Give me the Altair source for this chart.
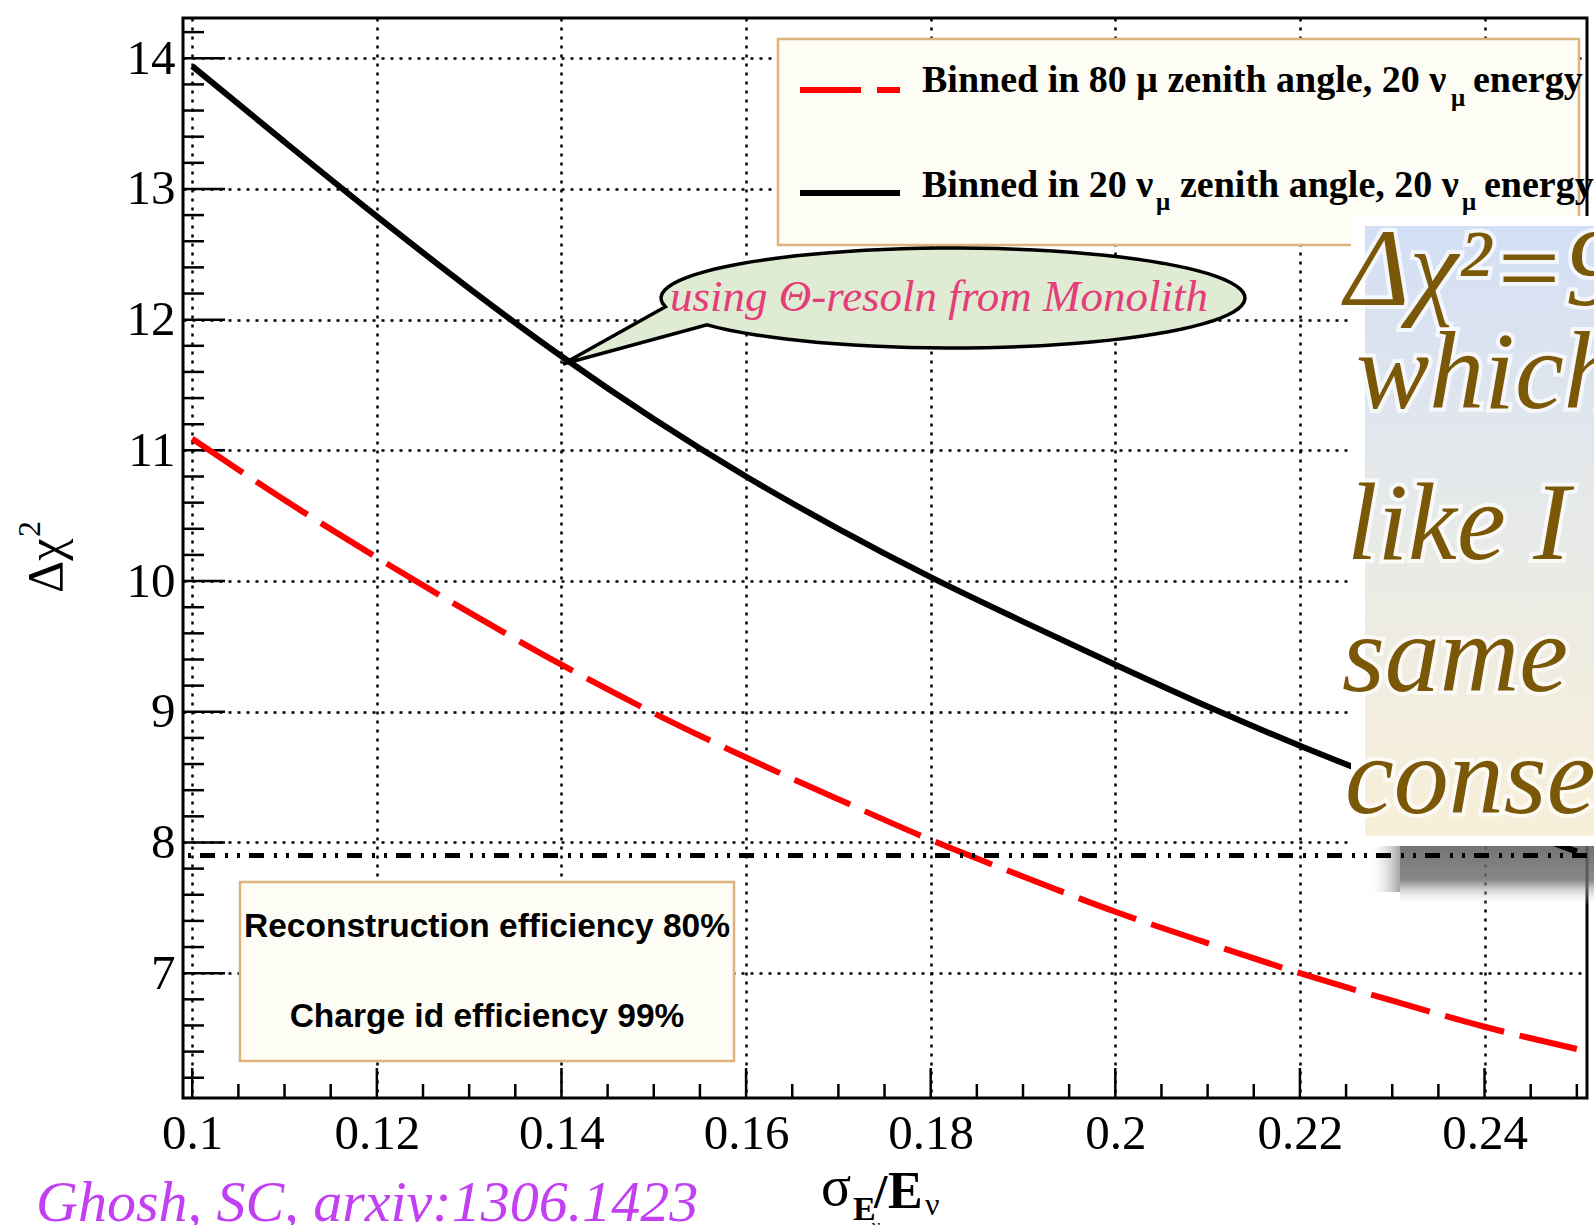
import altair as alt
import pandas as pd
import math

# sigma_E / E_nu and the Delta chi^2 reach of the two binning schemes
sigma_ratio = [0.10, 0.11, 0.12, 0.13, 0.14, 0.15, 0.16, 0.17,
               0.18, 0.19, 0.20, 0.21, 0.22, 0.23, 0.24, 0.25]
chi2_mu80 = [11.09, 10.62, 10.18, 9.76, 9.36, 8.99, 8.65, 8.33,
             8.02, 7.74, 7.47, 7.23, 7.00, 6.79, 6.59, 6.42]
chi2_nu20 = [13.94, 13.36, 12.79, 12.24, 11.72, 11.24, 10.80, 10.40,
             10.03, 9.69, 9.36, 9.04, 8.74, 8.46, 8.19, 7.93]
chi2_level = 7.9

x_major = [0.10, 0.12, 0.14, 0.16, 0.18, 0.20, 0.22, 0.24]
y_major = [7, 8, 9, 10, 11, 12, 13, 14]
x_minor = [round(0.100 + 0.005 * i, 3) for i in range(31)]
y_minor = [round(6.2 + 0.2 * i, 1) for i in range(41)]

# frame geometry (pixels)
LEFT, TOP, W, H = 183, 18, 1404, 1080
X_DOM = [0.099, 0.2511]
Y_DOM = [6.045, 14.308]

xs = alt.Scale(domain=X_DOM, nice=False, zero=False)
ys = alt.Scale(domain=Y_DOM, nice=False, zero=False)

axis_style = dict(grid=True, gridColor="black", gridDash=[3, 6], gridWidth=2.5,
                  gridOpacity=1, ticks=False, tickSize=0, domain=False,
                  labelFont="Liberation Serif", labelFontSize=49, labelColor="black",
                  labelOverlap=False, labelFlush=False)
x_enc = alt.X("x:Q", scale=xs, title=None,
              axis=alt.Axis(values=x_major, format=".2~f", labelPadding=11, **axis_style))
y_enc = alt.Y("y:Q", scale=ys, title=None,
              axis=alt.Axis(values=y_major, format="d", labelPadding=8, **axis_style))

one = pd.DataFrame({"k": [0]})


def label(text, px, py, **style):
    return alt.Chart(pd.DataFrame({"t": [text]})).mark_text(**style).encode(
        x=alt.value(px - LEFT), y=alt.value(py - TOP), text="t:N")


def box(x0, y0, x1, y1, **style):
    return alt.Chart(one).mark_rect(**style).encode(
        x=alt.value(x0 - LEFT), x2=alt.value(x1 - LEFT),
        y=alt.value(y0 - TOP), y2=alt.value(y1 - TOP))


# inward ticks
x_minor_only = [v for v in x_minor if all(abs(v - m) > 1e-6 for m in x_major)]
y_minor_only = [v for v in y_minor if abs(v - round(v)) > 0.01]
tick_x_major = alt.Chart(pd.DataFrame({"x": x_major})).mark_rule(
    color="black", strokeWidth=2.5).encode(x=x_enc, y=alt.value(H), y2=alt.value(H - 30))
tick_x_minor = alt.Chart(pd.DataFrame({"x": x_minor_only})).mark_rule(
    color="black", strokeWidth=2.5).encode(x=x_enc, y=alt.value(H), y2=alt.value(H - 14))
tick_y_major = alt.Chart(pd.DataFrame({"y": y_major})).mark_rule(
    color="black", strokeWidth=2.5).encode(y=y_enc, x=alt.value(0), x2=alt.value(42))
tick_y_minor = alt.Chart(pd.DataFrame({"y": y_minor_only})).mark_rule(
    color="black", strokeWidth=2.5).encode(y=y_enc, x=alt.value(0), x2=alt.value(21))

# curves
red = alt.Chart(pd.DataFrame({"x": sigma_ratio, "y": chi2_mu80})).mark_line(
    color="#ff0000", strokeWidth=6, strokeDash=[61, 16], interpolate="monotone"
).encode(x=x_enc, y=y_enc)
black = alt.Chart(pd.DataFrame({"x": sigma_ratio, "y": chi2_nu20})).mark_line(
    color="black", strokeWidth=6, interpolate="monotone"
).encode(x=x_enc, y=y_enc)
level = alt.Chart(pd.DataFrame({"y": [chi2_level]})).mark_rule(
    color="black", strokeWidth=5, strokeDash=[15, 9, 3, 9, 3, 10]
).encode(y=y_enc)

# legend
box_fill, box_edge = "#fdfdf5", "#dcb47c"
legend_box = box(778, 39, 1579, 245, fill=box_fill, stroke=box_edge, strokeWidth=2.5)
leg_red = alt.Chart(one).mark_rule(color="#ff0000", strokeWidth=6, strokeDash=[61, 16]).encode(
    x=alt.value(800 - LEFT), x2=alt.value(900 - LEFT), y=alt.value(90 - TOP))
leg_black = alt.Chart(one).mark_rule(color="black", strokeWidth=6).encode(
    x=alt.value(800 - LEFT), x2=alt.value(900 - LEFT), y=alt.value(193 - TOP))
leg_font = dict(font="Liberation Serif", fontWeight="bold", color="black",
                baseline="alphabetic", align="left")
leg_texts = [
    label("Binned in 80 \u03bc zenith angle, 20 \u03bd", 922, 92, fontSize=38, **leg_font),
    label("\u03bc", 1451, 106, fontSize=25, **leg_font),
    label("energy", 1473, 92, fontSize=38, **leg_font),
    label("Binned in 20 \u03bd", 922, 197, fontSize=38, **leg_font),
    label("\u03bc", 1156, 210, fontSize=25, **leg_font),
    label("zenith angle, 20 \u03bd", 1180, 197, fontSize=38, **leg_font),
    label("\u03bc", 1462, 210, fontSize=25, **leg_font),
    label("energy", 1484, 197, fontSize=38, **leg_font),
]

# efficiency note
info_box = box(240, 882, 734, 1061, fill=box_fill, stroke=box_edge, strokeWidth=2.5)
info_font = dict(font="Liberation Sans", fontWeight="bold", fontSize=33.5, color="black",
                 align="center", baseline="alphabetic")
info_texts = [
    label("Reconstruction efficiency 80%", 487, 937, **info_font),
    label("Charge id efficiency 99%", 487, 1027, **info_font),
]

# speech bubble pointing at the curve
cx, cy, rx, ry, R = 953, 298, 292, 50, 400
tip = (563 - cx, 364 - cy)
t1, t2 = math.radians(170), math.radians(147.4)
pts = [(rx * math.cos(t1), ry * math.sin(t1)), tip, (rx * math.cos(t2), ry * math.sin(t2))]
n = 90
for i in range(1, n + 1):
    t = t2 - (t2 - (t1 - 2 * math.pi)) * i / n
    pts.append((rx * math.cos(t), ry * math.sin(t)))
bubble_path = "M " + " L ".join(f"{px / R:.4f} {py / R:.4f}" for px, py in pts) + " Z"
bubble = alt.Chart(one).mark_point(
    shape=bubble_path, size=(2 * R) ** 2, filled=True, fill="#e0ebd4",
    stroke="black", strokeWidth=3.5, opacity=1
).encode(x=alt.value(cx - LEFT), y=alt.value(cy - TOP))
bubble_text = label("using \u0398-resoln from Monolith", 939, 311, font="Liberation Serif",
                    fontStyle="italic", fontSize=45, color="#e43d78", align="center",
                    baseline="alphabetic")

# pasted note on the right, with its soft drop shadow
paper_grad = alt.LinearGradient(
    gradient="linear", x1=0, x2=0, y1=0, y2=1,
    stops=[alt.GradientStop(color="#d3dff5", offset=0),
           alt.GradientStop(color="#e8eae8", offset=0.5),
           alt.GradientStop(color="#f8efd8", offset=1)])
shadow_down = alt.LinearGradient(
    gradient="linear", x1=0, x2=0, y1=0, y2=1,
    stops=[alt.GradientStop(color="rgba(95,95,95,0.92)", offset=0),
           alt.GradientStop(color="rgba(110,110,110,0.82)", offset=0.65),
           alt.GradientStop(color="rgba(255,255,255,0)", offset=1)])
shadow_side = alt.LinearGradient(
    gradient="linear", x1=0, x2=1, y1=0, y2=0,
    stops=[alt.GradientStop(color="rgba(255,255,255,0)", offset=0),
           alt.GradientStop(color="rgba(105,105,105,0.6)", offset=1)])
shadow = [
    box(1400, 832, 1600, 906, fill=shadow_down),
    box(1368, 832, 1400, 892, fill=shadow_side),
]
paper_rim = box(1351, 216, 1600, 846, fill="#ffffff")
paper = box(1365, 226, 1600, 836, fill=paper_grad)
note_lines = [("\u0394\u03c7\u00b2=9", 1345, 305), ("which", 1356, 408), ("like I", 1347, 559),
              ("same a", 1342, 691), ("conser", 1345, 813)]
note_style = dict(font="Liberation Serif", fontStyle="italic", fontSize=110,
                  align="left", baseline="alphabetic")
note_texts = []
for txt, px, py in note_lines:
    note_texts.append(label(txt, px, py, color="#ffffff", stroke="#ffffff",
                            strokeWidth=8, strokeOpacity=0.7, **note_style))
    note_texts.append(label(txt, px, py, color="#7a5808", **note_style))

# axis titles
serif = "Liberation Serif"
plain = dict(font=serif, align="left", baseline="alphabetic", color="black")
titles = [
    label("\u0394\u03c7", 62, 593, fontSize=50, angle=270, **plain),
    label("2", 40, 537, fontSize=32, angle=270, **plain),
    label("\u03c3", 821, 1205, fontSize=56, **plain),
    label("E", 853, 1220, fontSize=34, fontWeight="bold", **plain),
    label("\u03bd", 872, 1232, fontSize=18, **plain),
    label("/", 874, 1208, fontSize=48, fontWeight="bold", **plain),
    label("E", 888, 1208, fontSize=52, fontWeight="bold", **plain),
    label("\u03bd", 925, 1215, fontSize=32, **plain),
]
citation = label("Ghosh, SC, arxiv:1306.1423", 36, 1221, font=serif, fontStyle="italic",
                 fontSize=58, color="#c23ff2", align="left", baseline="alphabetic")

layers = [tick_x_major, tick_x_minor, tick_y_major, tick_y_minor, *shadow, red, black, level,
          info_box, legend_box, leg_red, leg_black, *leg_texts, *info_texts, bubble, bubble_text,
          paper_rim, paper, *note_texts, *titles, citation]

chart = alt.layer(*layers).properties(
    width=W, height=H, background="white",
    autosize=alt.AutoSizeParams(type="none"),
    padding={"left": LEFT, "top": TOP, "right": 1594 - LEFT - W, "bottom": 1225 - TOP - H},
).configure_view(stroke="black", strokeWidth=3)

chart.save("out.html", embed_options={"renderer": "svg", "actions": False})
